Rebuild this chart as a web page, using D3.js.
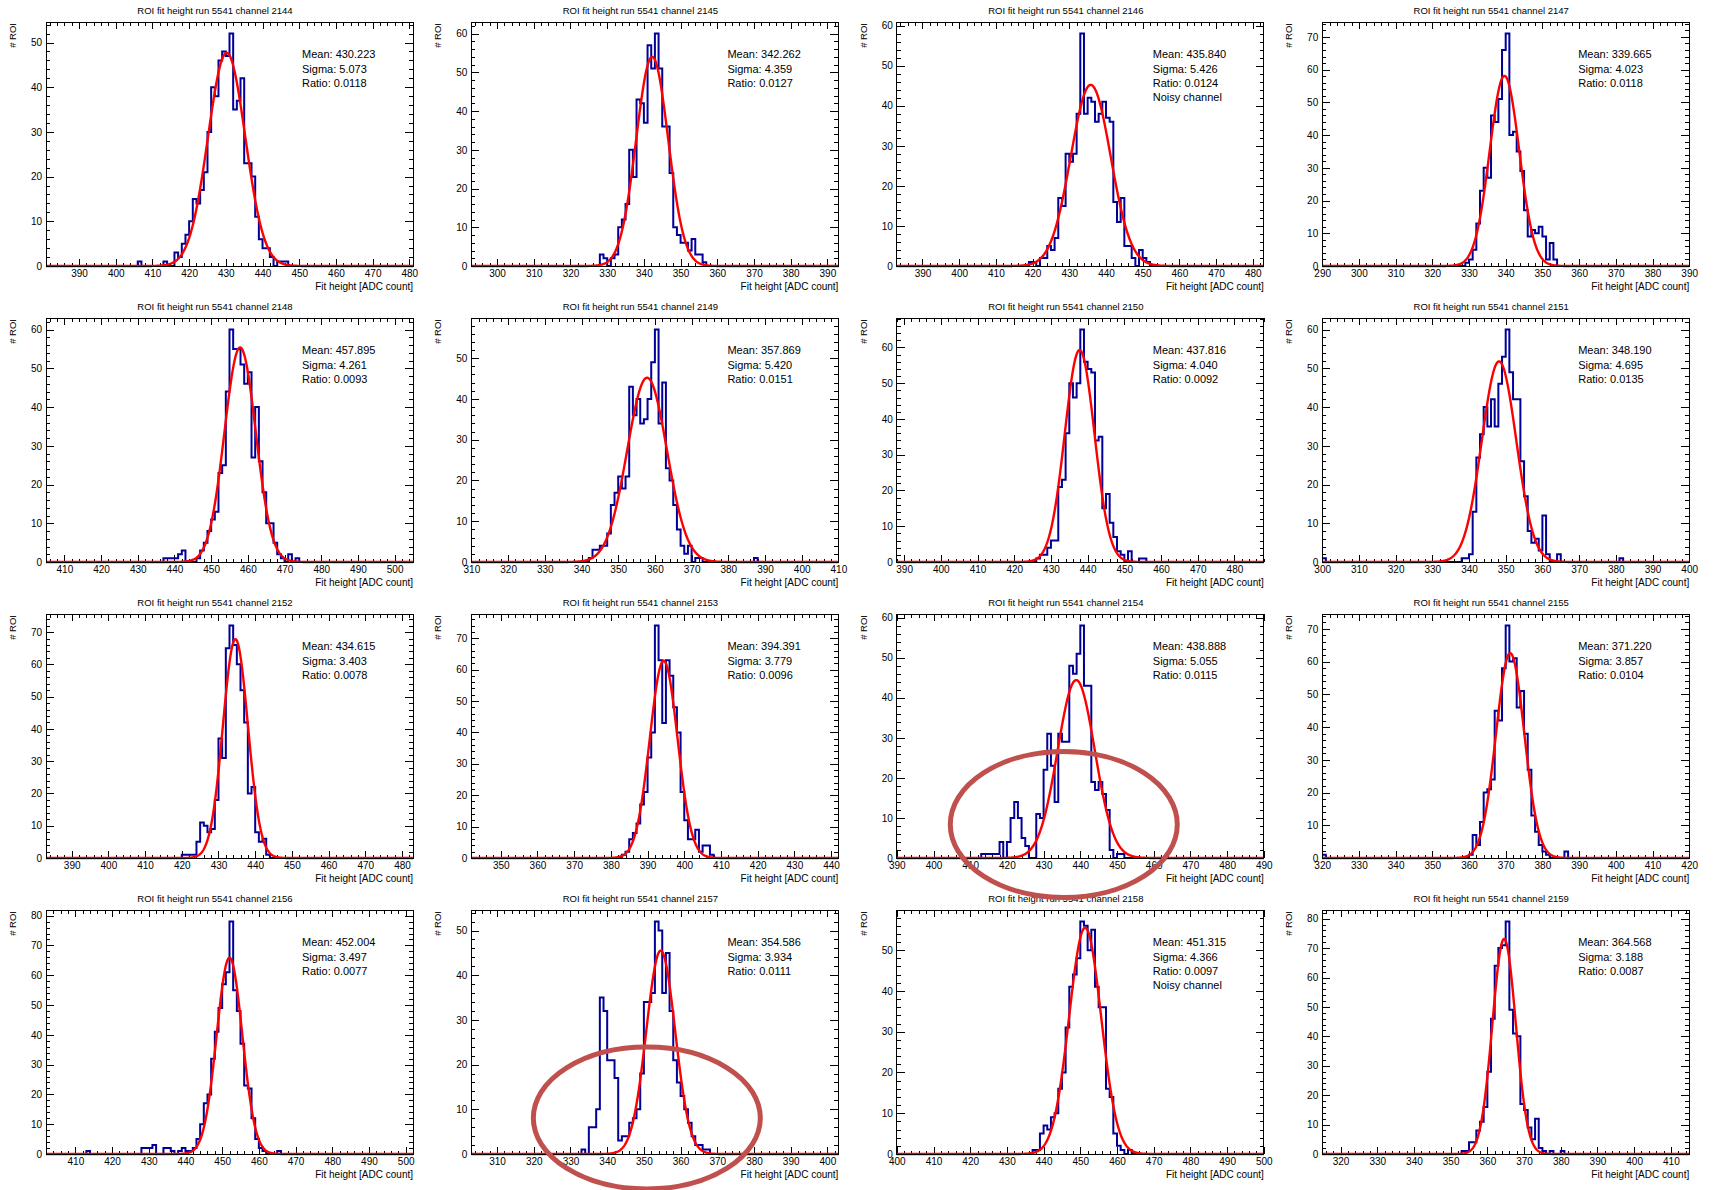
<!DOCTYPE html>
<html><head><meta charset="utf-8">
<script src="https://cdn.jsdelivr.net/npm/d3@7"></script>
<style>
html,body{margin:0;padding:0;background:#fff;}
svg{display:block;font-family:"Liberation Sans",Arial,Helvetica,sans-serif;}
</style></head><body>
<svg id="chart" width="1713" height="1190"></svg>
<script>
// ---------------- data ----------------
const runNumber = "5541";
const channels = [2144,2145,2146,2147,2148,2149,2150,2151,2152,2153,2154,2155,2156,2157,2158,2159];
const xMins    = [381,293,383,290,405,310,388,300,383,342,390,320,402,303,400,315];
const fitMeans = [430.223,342.262,435.840,339.665,457.895,357.869,437.816,348.190,434.615,394.391,438.888,371.220,452.004,354.586,451.315,364.568];
const fitSigmas= [5.073,4.359,5.426,4.023,4.261,5.420,4.040,4.695,3.403,3.779,5.055,3.857,3.497,3.934,4.366,3.188];
const fitAmps  = [47.7,54.0,45.2,58.1,55.4,45.2,59.3,51.8,67.8,62.8,44.4,62.6,65.9,45.5,55.5,73.1];
const ratios   = ["0.0118","0.0127","0.0124","0.0118","0.0093","0.0151","0.0092","0.0135","0.0078","0.0096","0.0115","0.0104","0.0077","0.0111","0.0097","0.0087"];
const noisyChannels = [2146,2158];
const binStarts = [406,328,419,329,437,342,426,300,420,383,413,320,413,333,437,353];

const h2144 = [1,0,0,0,0,0,0,1,0,0,3,2,5,7,10,15,14,17,21,30,40,38,46,48,47,52,35,37,42,23,23,20,11,6,4,4,2,0,1,1,1];
const h2145 = [3,2,0,2,3,10,12,16,30,23,43,42,37,57,51,60,51,36,36,24,10,8,6,6,4,7,3,3,1];
const h2146 = [1,1,0,2,2,5,4,7,17,15,28,26,28,38,58,38,42,41,36,38,41,37,36,16,11,17,5,5,2,0,4,2,1];
const h2147 = [1,2,5,13,23,30,27,46,44,51,66,71,40,41,35,29,17,9,11,10,12,9,2,7,2];
const h2148 = [1,1,1,1,2,3,0,0,0,1,3,5,8,11,13,23,25,44,60,55,55,51,46,49,27,40,26,18,10,10,5,2,1,0,2,0,1];
const h2149 = [1,3,3,4,4,7,14,17,21,18,21,43,36,40,34,35,40,49,57,34,44,23,20,14,8,4,2,4,0,1,1,
               0,0,0,0,0,0,0,0,0,0,0,0,0,0,1];
const h2150 = [1,2,2,4,6,6,21,23,36,50,46,50,65,56,54,53,34,35,15,19,11,7,3,2,0,3,0,0,1,1];
const h2151 = [1,
               0,0,0,0,0,0,0,0,0,0,0,0,0,0,0,0,0,0,0,0,0,0,0,0,0,0,0,0,0,0,0,0,0,0,0,0,0,
               1,1,2,13,27,33,40,35,42,35,46,53,60,49,42,42,26,17,8,5,6,3,12,2,0,0,2,
               0,0,0,0,0,0,0,0,0,0,0,0,0,0,0,0,1];
const h2152 = [1,1,1,1,5,11,10,8,9,18,37,31,65,72,66,60,52,42,20,22,8,5,6,1];
const h2153 = [1,2,6,8,11,17,21,32,40,74,63,43,63,58,48,40,21,12,6,6,9,2,4,4,1];
const h2154 = [1,1,1,1,1,4,0,4,10,14,10,5,3,0,0,11,10,22,31,23,14,31,29,29,48,46,51,58,43,43,19,17,19,16,12,2,0,1,1];
const h2155 = [1,
               0,0,0,0,0,0,0,0,0,0,0,0,0,0,0,0,0,0,0,0,0,0,0,0,0,0,0,0,0,0,0,0,0,0,0,0,0,0,0,
               1,7,4,11,20,21,24,45,42,58,71,60,61,46,51,38,27,13,8,4,2,1,0,0,0,0,2];
const h2156 = [1,0,0,0,0,0,0,0,0,0,0,0,0,0,0,
               2,2,2,3,0,0,2,2,1,0,1,2,1,1,2,5,10,17,20,32,41,49,57,61,78,55,48,37,23,22,12,5,2,1,0,0,0,1];
const h2157 = [1,0,6,6,10,35,32,21,21,17,3,4,4,7,8,10,18,34,34,36,52,50,36,45,32,21,16,13,10,7,4,2,2,1,1];
const h2158 = [1,1,5,7,6,9,10,16,20,31,41,44,48,57,56,50,55,41,36,36,16,14,5,2,1,0,1];
const h2159 = [1,1,4,4,8,11,16,28,46,64,70,71,79,49,41,40,17,15,9,5,12,2,1,0,1,0,0,1];
const histCounts = [h2144,h2145,h2146,h2147,h2148,h2149,h2150,h2151,h2152,h2153,h2154,h2155,h2156,h2157,h2158,h2159];

// hand-drawn highlight marks: panel index and centre (x in ADC counts)
const markPanels  = [10, 13];
const markCentreX = [435.5, 350.8];

// ---------------- layout ----------------
const frameX0 = 46, colStep = 425.4, frameW = 367;
const frameY0 = 22, rowStep = 296, frameH = 244;
const BLUE = "#000099", RED = "#ff0000";
const markLift = [33.5, 36], markRy = [73, 71];

const svg = d3.select("#chart");
svg.append("rect").attr("width",1713).attr("height",1190).attr("fill","#fff");

function styleAxis(g, fs){
  g.select(".domain").remove();
  g.selectAll("line").attr("stroke","#000").attr("stroke-width",1).attr("shape-rendering","crispEdges");
  g.selectAll("text").attr("font-size",fs).attr("fill","#000").attr("font-family","Liberation Sans, Arial, sans-serif");
}

const marks = [];

channels.forEach((ch, i) => {
  const c = i % 4, r = Math.floor(i / 4);
  const fx = frameX0 + c * colStep, fy = frameY0 + r * rowStep;
  const counts = histCounts[i], start = binStarts[i];
  const xLo = xMins[i], xHi = xMins[i] + 100;
  const yMax = 1.05 * d3.max(counts);

  const x = d3.scaleLinear().domain([xLo, xHi]).range([fx, fx + frameW]);
  const y = d3.scaleLinear().domain([0, yMax]).range([fy + frameH, fy]);
  const g = svg.append("g");

  // ticks
  const xMaj = d3.range(Math.ceil(xLo/10)*10, xHi + 1e-9, 10);
  const xMin = d3.range(Math.ceil(xLo/2)*2, xHi + 1e-9, 2).filter(v => v % 10 !== 0);
  const yMaj = d3.range(0, yMax + 1e-9, 10);
  const yMin = d3.range(0, yMax + 1e-9, 2).filter(v => v % 10 !== 0);

  let a;
  a = g.append("g").attr("transform",`translate(0,${fy+frameH})`)
      .call(d3.axisBottom(x).tickValues(xMaj).tickSizeInner(-7).tickSizeOuter(0).tickPadding(4).tickFormat(d3.format("d")));
  styleAxis(a, "10px");
  a = g.append("g").attr("transform",`translate(0,${fy+frameH})`)
      .call(d3.axisBottom(x).tickValues(xMin).tickSizeInner(-3.5).tickSizeOuter(0).tickFormat(""));
  styleAxis(a, "10px");
  a = g.append("g").attr("transform",`translate(0,${fy})`)
      .call(d3.axisTop(x).tickValues(xMaj).tickSizeInner(-7).tickSizeOuter(0).tickFormat(""));
  styleAxis(a, "10px");
  a = g.append("g").attr("transform",`translate(0,${fy})`)
      .call(d3.axisTop(x).tickValues(xMin).tickSizeInner(-3.5).tickSizeOuter(0).tickFormat(""));
  styleAxis(a, "10px");
  a = g.append("g").attr("transform",`translate(${fx},0)`)
      .call(d3.axisLeft(y).tickValues(yMaj).tickSizeInner(-8).tickSizeOuter(0).tickPadding(4).tickFormat(d3.format("d")));
  styleAxis(a, "10px");
  a = g.append("g").attr("transform",`translate(${fx},0)`)
      .call(d3.axisLeft(y).tickValues(yMin).tickSizeInner(-4).tickSizeOuter(0).tickFormat(""));
  styleAxis(a, "10px");
  a = g.append("g").attr("transform",`translate(${fx+frameW},0)`)
      .call(d3.axisRight(y).tickValues(yMaj).tickSizeInner(-8).tickSizeOuter(0).tickFormat(""));
  styleAxis(a, "10px");
  a = g.append("g").attr("transform",`translate(${fx+frameW},0)`)
      .call(d3.axisRight(y).tickValues(yMin).tickSizeInner(-4).tickSizeOuter(0).tickFormat(""));
  styleAxis(a, "10px");

  // histogram (step outline)
  const bins = d3.range(xLo, xHi).map(k => ({x: k, v: (k >= start && k - start < counts.length) ? counts[k - start] : 0}));
  bins.push({x: xHi, v: bins[bins.length - 1].v});
  g.append("path").datum(bins)
    .attr("fill","none").attr("stroke",BLUE).attr("stroke-width",2).attr("stroke-linejoin","miter")
    .attr("d", d3.line().x(d => x(d.x)).y(d => y(d.v)).curve(d3.curveStepAfter));

  // gaussian fit
  const mu = fitMeans[i], sg = fitSigmas[i], A = fitAmps[i];
  const fitPts = d3.range(xLo, xHi + 0.001, 0.1).map(t => ({x: t, v: A * Math.exp(-0.5 * ((t - mu) / sg) ** 2)}));
  g.append("path").datum(fitPts)
    .attr("fill","none").attr("stroke",RED).attr("stroke-width",2.4).attr("stroke-linejoin","round")
    .attr("d", d3.line().x(d => x(d.x)).y(d => y(d.v)));

  // frame
  g.append("rect").attr("x",fx).attr("y",fy).attr("width",frameW).attr("height",frameH)
    .attr("fill","none").attr("stroke","#000").attr("stroke-width",1).attr("shape-rendering","crispEdges");

  // title
  g.append("text").attr("x", fx + 169).attr("y", fy - 8.5).attr("text-anchor","middle")
    .attr("font-size","9.5px").attr("fill","#000")
    .text(`ROI fit height run ${runNumber} channel ${ch}`);
  // x title
  g.append("text").attr("x", fx + frameW).attr("y", fy + frameH + 24).attr("text-anchor","end")
    .attr("font-size","10px").attr("fill","#000").text("Fit height [ADC count]");
  // y title
  g.append("text").attr("transform",`translate(${fx - 30},${fy + 1}) rotate(-90)`).attr("text-anchor","end")
    .attr("font-size","9.5px").attr("fill","#000").text("# ROI");

  // stats text
  const lines = [`Mean: ${mu.toFixed(3)}`, `Sigma: ${sg.toFixed(3)}`, `Ratio: ${ratios[i]}`];
  if (noisyChannels.includes(ch)) lines.push("Noisy channel");
  const offs = [36, 50.5, 64.5, 79];
  lines.forEach((t, j) => {
    g.append("text").attr("x", fx + 256).attr("y", fy + offs[j])
      .attr("font-size","11px").attr("fill","#000").text(t);
  });

  const mi = markPanels.indexOf(i);
  if (mi >= 0) marks.push({cx: x(markCentreX[mi]), cy: y(0) - markLift[mi], ry: markRy[mi]});
});

// highlight ellipses (annotation, drawn on top)
svg.selectAll("ellipse.mark").data(marks).join("ellipse").attr("class","mark")
  .attr("cx", d => d.cx).attr("cy", d => d.cy).attr("rx", 113.5).attr("ry", d => d.ry)
  .attr("fill","none").attr("stroke","#c0504d").attr("stroke-width",5);
</script>
</body></html>
